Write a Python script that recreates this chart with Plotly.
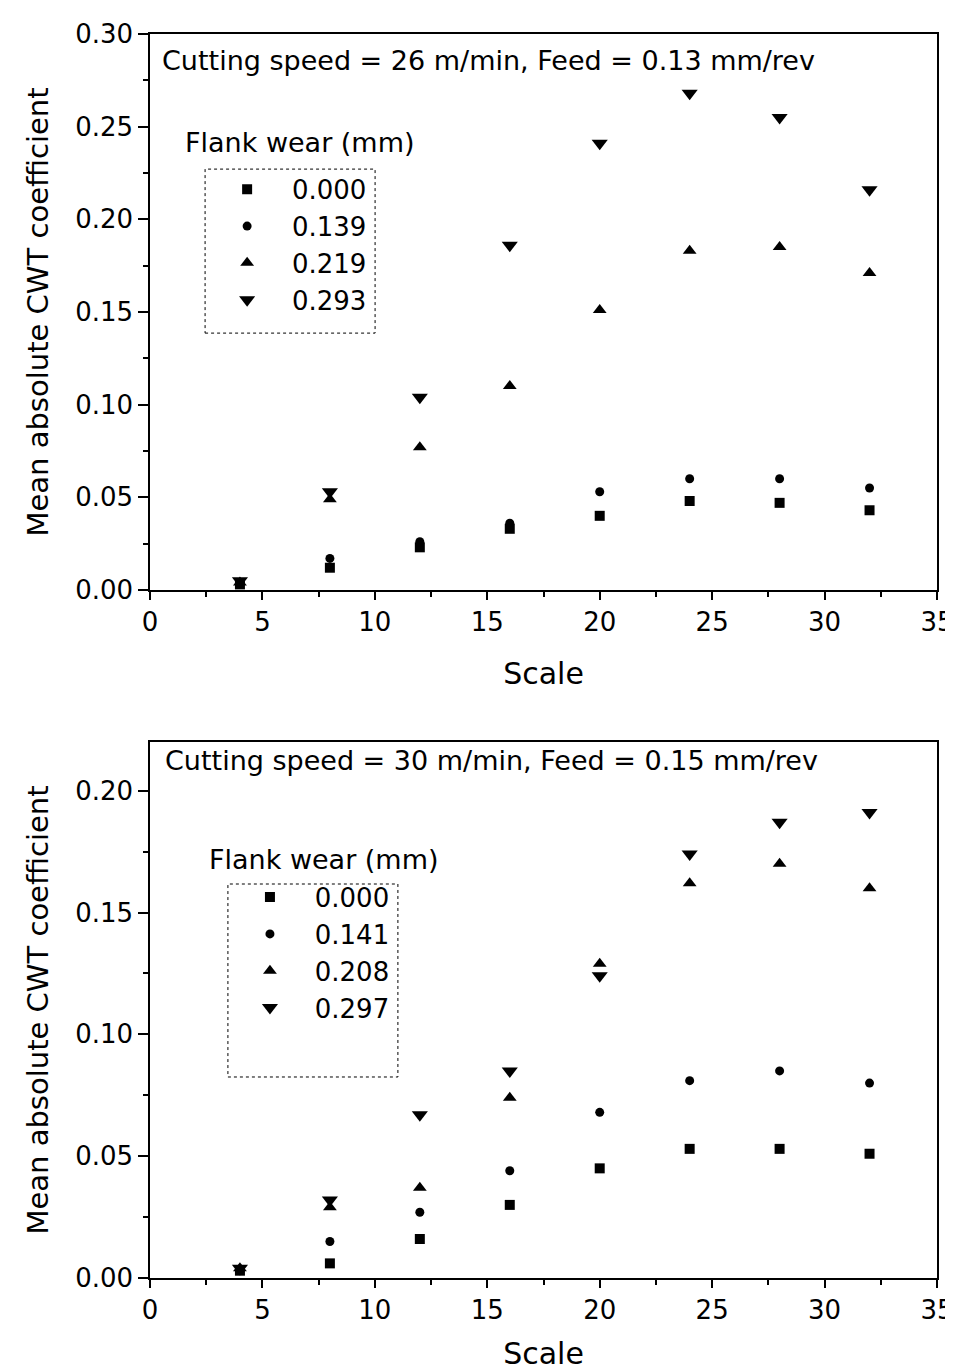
import plotly.graph_objects as go
from plotly.subplots import make_subplots

scale = [4, 8, 12, 16, 20, 24, 28, 32]

# Top panel: cutting speed 26 m/min, feed 0.13 mm/rev
top_labels = ["0.000", "0.139", "0.219", "0.293"]
top_w000 = [0.003, 0.012, 0.023, 0.033, 0.040, 0.048, 0.047, 0.043]
top_w139 = [0.004, 0.017, 0.026, 0.036, 0.053, 0.060, 0.060, 0.055]
top_w219 = [0.004, 0.049, 0.077, 0.110, 0.151, 0.183, 0.185, 0.171]
top_w293 = [0.005, 0.053, 0.104, 0.186, 0.241, 0.268, 0.255, 0.216]

# Bottom panel: cutting speed 30 m/min, feed 0.15 mm/rev
bot_labels = ["0.000", "0.141", "0.208", "0.297"]
bot_w000 = [0.003, 0.006, 0.016, 0.030, 0.045, 0.053, 0.053, 0.051]
bot_w141 = [0.003, 0.015, 0.027, 0.044, 0.068, 0.081, 0.085, 0.080]
bot_w208 = [0.004, 0.029, 0.037, 0.074, 0.129, 0.162, 0.170, 0.160]
bot_w297 = [0.004, 0.032, 0.067, 0.085, 0.124, 0.174, 0.187, 0.191]

symbols = ["square", "circle", "triangle-up", "triangle-down"]
sizes = [10, 9, 12, 14]

FONT = "DejaVu Sans, Arial, sans-serif"
PAD = "\u00a0\u00a0\u00a0"

fig = make_subplots(rows=2, cols=1, vertical_spacing=0)

for lab, ys, sym, sz in zip(top_labels, [top_w000, top_w139, top_w219, top_w293], symbols, sizes):
    fig.add_trace(go.Scatter(x=scale, y=ys, mode="markers", name=PAD + lab,
                             marker=dict(symbol=sym, size=sz, color="black"),
                             legend="legend"), row=1, col=1)
for lab, ys, sym, sz in zip(bot_labels, [bot_w000, bot_w141, bot_w208, bot_w297], symbols, sizes):
    fig.add_trace(go.Scatter(x=scale, y=ys, mode="markers", name=PAD + lab,
                             marker=dict(symbol=sym, size=sz, color="black"),
                             legend="legend2"), row=2, col=1)

axis_common = dict(showline=True, linecolor="black", linewidth=1.5, mirror=True, automargin=False,
                   ticks="outside", tickcolor="black", showgrid=False, zeroline=False,
                   ticklabeloverflow="allow",
                   tickfont=dict(family=FONT, size=26, color="black"))

fig.update_xaxes(range=[0, 35], dtick=5, ticklen=8, tickwidth=1.5,
                 minor=dict(dtick=2.5, ticks="outside", ticklen=5, tickcolor="black"),
                 title=dict(text="Scale", font=dict(family=FONT, size=30, color="black"), standoff=27),
                 **axis_common)
fig.update_xaxes(title_standoff=22, row=2, col=1)
fig.update_yaxes(dtick=0.05, tickformat=".2f", ticklen=10, tickwidth=1.5,
                 minor=dict(dtick=0.025, ticks="outside", ticklen=5, tickcolor="black"),
                 title=dict(text="Mean absolute CWT coefficient",
                            font=dict(family=FONT, size=29, color="black"), standoff=18),
                 **axis_common)
fig.update_yaxes(range=[0, 0.30], domain=[0.5531, 1.0], row=1, col=1)
fig.update_yaxes(range=[0, 0.22], domain=[0.0, 0.4309], row=2, col=1)

ann_font = dict(family=FONT, size=27, color="black")
fig.add_annotation(text="Cutting speed = 26 m/min, Feed = 0.13 mm/rev", xref="x domain", yref="y domain",
                   x=0.0127, y=0.953, xanchor="left", yanchor="middle", showarrow=False, font=ann_font)
fig.add_annotation(text="Flank wear (mm)", xref="x domain", yref="y domain",
                   x=0.042, y=0.804, xanchor="left", yanchor="middle", showarrow=False, font=ann_font)
fig.add_annotation(text="Cutting speed = 30 m/min, Feed = 0.15 mm/rev", xref="x2 domain", yref="y2 domain",
                   x=0.0165, y=0.966, xanchor="left", yanchor="middle", showarrow=False, font=ann_font)
fig.add_annotation(text="Flank wear (mm)", xref="x2 domain", yref="y2 domain",
                   x=0.072, y=0.78, xanchor="left", yanchor="middle", showarrow=False, font=ann_font)

box_line = dict(color="black", width=1, dash="dot")
fig.add_shape(type="rect", xref="x domain", yref="y domain", x0=0.070, x1=0.286, y0=0.462, y1=0.757,
              line=box_line)
fig.add_shape(type="rect", xref="x2 domain", yref="y2 domain", x0=0.099, x1=0.315, y0=0.375, y1=0.735,
              line=box_line)

leg_common = dict(font=dict(family=FONT, size=26, color="black"), bgcolor="rgba(0,0,0,0)",
                  borderwidth=0, xanchor="left", yanchor="top", tracegroupgap=0, itemsizing="trace")

fig.update_layout(
    width=945, height=1363,
    margin=dict(l=142, r=16, t=26, b=93),
    plot_bgcolor="white", paper_bgcolor="white",
    font=dict(family=FONT, color="black"),
    legend=dict(x=0.098, y=0.894, **leg_common),
    legend2=dict(x=0.127, y=0.325, **leg_common),
)

fig.write_html("out.html")
